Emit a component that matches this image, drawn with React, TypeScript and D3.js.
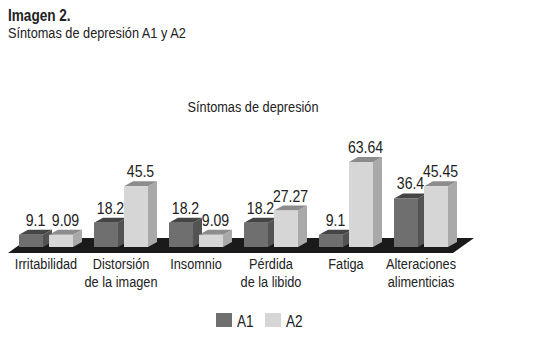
import React from "react";
import * as d3 from "d3";

const categories = [
  ["Irritabilidad"],
  ["Distorsión", "de la imagen"],
  ["Insomnio"],
  ["Pérdida", "de la libido"],
  ["Fatiga"],
  ["Alteraciones", "alimenticias"],
];
const seriesNames = ["A1", "A2"];
const valuesA1 = [9.1, 18.2, 18.2, 18.2, 9.1, 36.4];
const valuesA2 = [9.09, 45.5, 9.09, 27.27, 63.64, 45.45];
const labelsA1 = ["9.1", "18.2", "18.2", "18.2", "9.1", "36.4"];
const labelsA2 = ["9.09", "45.5", "9.09", "27.27", "63.64", "45.45"];

const FONT = "'Liberation Sans', Arial, sans-serif";

function T(props: { x: number; y: number; sx?: number; size: number; anchor?: string; bold?: boolean; children: any }) {
  const { x, y, sx = 0.85, size, anchor = "start", bold, children } = props;
  return (
    <text
      transform={`translate(${x},${y}) scale(${sx},1)`}
      textAnchor={anchor as any}
      fontFamily={FONT}
      fontSize={size}
      fontWeight={bold ? "bold" : "normal"}
      fill="#222"
    >
      {children}
    </text>
  );
}

export default function App() {
  const W = 535, H = 359;
  const keys = categories.map((_, i) => String(i));
  const x0 = d3.scaleBand().domain(keys).range([19, 448]).paddingInner(0.28).paddingOuter(0);
  const x1 = d3.scaleBand().domain(seriesNames).range([0, x0.bandwidth()]).paddingInner(0.2);
  const y = d3.scaleLinear().domain([0, 70]).range([247, 153.5]);
  const dx = 9, dy = -5;
  const colors = {
    A1: { front: "#6f6f6f", top: "#454545", side: "#535353" },
    A2: { front: "#d6d6d6", top: "#8c8c8c", side: "#a9a9a9" },
  };
  const bars: any[] = [];
  categories.forEach((_, i) => {
    seriesNames.forEach((s) => {
      const v = s === "A1" ? valuesA1[i] : valuesA2[i];
      const lab = s === "A1" ? labelsA1[i] : labelsA2[i];
      bars.push({ i, s, v, lab, x: (x0(String(i)) as number) + (x1(s) as number) });
    });
  });
  const bw = x1.bandwidth();
  const y0 = y(0);
  const fl = 8, fr = 453, fb = 253, fdx = 21, fdy = -15;
  const floor = `M${fl},${fb} L${fr},${fb} L${fr + fdx},${fb + fdy} L${fl + fdx},${fb + fdy} Z`;
  return (
    <svg width={W} height={H} style={{ position: "absolute", left: 0, top: 0, background: "#fff" }}>
      <T x={8} y={21} size={16} bold>Imagen 2.</T>
      <T x={8} y={38} size={15}>Síntomas de depresión A1 y A2</T>
      <T x={253} y={112} size={15} anchor="middle">Síntomas de depresión</T>
      <path d={floor} fill="#1a1a1a" />
      {bars.map((b, k) => {
        const c = (colors as any)[b.s];
        const yt = y(b.v);
        const x = b.x;
        return (
          <g key={k}>
            <path d={`M${x + bw},${yt} L${x + bw + dx},${yt + dy} L${x + bw + dx},${y0 + dy} L${x + bw},${y0} Z`} fill={c.side} />
            <path d={`M${x},${yt} L${x + dx},${yt + dy} L${x + bw + dx},${yt + dy} L${x + bw},${yt} Z`} fill={c.top} />
            <rect x={x} y={yt} width={bw} height={y0 - yt} fill={c.front} />
            <T x={x + (bw + dx) / 2} y={yt + dy - 4} size={16} sx={0.88} anchor="middle">{b.lab}</T>
          </g>
        );
      })}
      {categories.map((lines, i) =>
        lines.map((l, j) => (
          <T key={i + "-" + j} x={(x0(String(i)) as number) + x0.bandwidth() / 2} y={269 + j * 18} size={15} anchor="middle">{l}</T>
        ))
      )}
      {seriesNames.map((s, k) => (
        <g key={s}>
          <rect x={216 + k * 49} y={313} width={16} height={14} fill={(colors as any)[s].front} />
          <T x={237 + k * 49} y={327} size={16}>{s}</T>
        </g>
      ))}
    </svg>
  );
}
